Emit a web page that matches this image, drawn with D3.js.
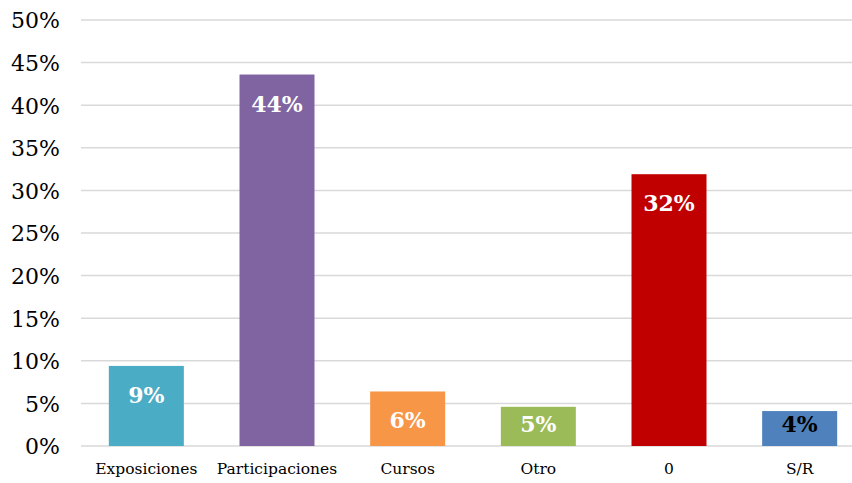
<!DOCTYPE html>
<html><head><meta charset="utf-8">
<script src="https://cdn.jsdelivr.net/npm/d3@7"></script>
<style>body{margin:0;background:#fff}svg{display:block}</style>
</head><body>
<svg id="c" width="852" height="483"></svg>
<script>
const categories = ["Exposiciones","Participaciones","Cursos","Otro","0","S/R"];
const values = [9.4, 43.6, 6.4, 4.6, 31.9, 4.1];
const valueLabels = ["9%","44%","6%","5%","32%","4%"];
const colors = ["#4BACC6","#8064A2","#F79646","#9BBB59","#C00000","#4F81BD"];
const labelColors = ["#fff","#fff","#fff","#fff","#fff","#000"];
const yTicks = [0,5,10,15,20,25,30,35,40,45,50];

const svg = d3.select("#c");
const y = d3.scaleLinear().domain([0,50]).range([446,20]);
const x = d3.scaleBand().domain(categories).range([81,865]).paddingInner(0.426).paddingOuter(0.213);
const font = "'DejaVu Serif', serif";

// gridlines
svg.append("g").selectAll("line").data(yTicks).join("line")
  .attr("x1",81).attr("x2",852)
  .attr("y1",d=>y(d)).attr("y2",d=>y(d))
  .attr("stroke","#d9d9d9").attr("stroke-width",1.5);

// y axis labels
const yAxis = d3.axisLeft(y).tickValues(yTicks).tickFormat(d=>d+"%").tickSize(0).tickPadding(0);
const ga = svg.append("g").attr("transform","translate(60,0)").call(yAxis);
ga.select(".domain").remove();
ga.selectAll("text").attr("font-family",font).attr("font-size",22).attr("fill","#000").attr("dy","0.36em");

// bars
svg.append("g").selectAll("rect").data(categories).join("rect")
  .attr("x",d=>x(d)).attr("width",x.bandwidth())
  .attr("y",(d,i)=>y(values[i])).attr("height",(d,i)=>y(0)-y(values[i]))
  .attr("fill",(d,i)=>colors[i]);

// value labels
svg.append("g").selectAll("text").data(categories).join("text")
  .attr("x",d=>x(d)+x.bandwidth()/2)
  .attr("y",(d,i)=>Math.min(y(values[i])+37, y(0)-14))
  .attr("text-anchor","middle")
  .attr("font-family",font).attr("font-weight","bold").attr("font-size",22)
  .attr("fill",(d,i)=>labelColors[i])
  .text((d,i)=>valueLabels[i]);

// x axis labels
const xAxis = d3.axisBottom(x).tickSize(0).tickPadding(0);
const gx = svg.append("g").attr("transform","translate(0,463)").call(xAxis);
gx.select(".domain").remove();
gx.selectAll("text").attr("font-family",font).attr("font-size",15.5).attr("fill","#000").attr("dy","0.71em");
</script>
</body></html>
